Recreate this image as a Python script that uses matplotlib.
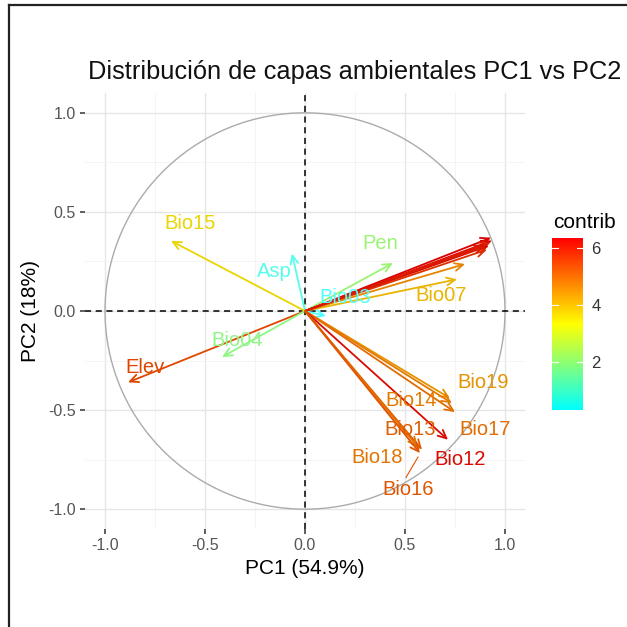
import matplotlib
matplotlib.use("Agg")
import matplotlib.pyplot as plt
from matplotlib.colors import LinearSegmentedColormap, Normalize
from matplotlib.lines import Line2D
import numpy as np

plt.rcParams['font.family'] = ['Liberation Sans', 'DejaVu Sans']

# variable coordinates on PC1 / PC2
variables = ['Elev', 'Bio15', 'Asp', 'Bio04', 'Bio03', 'Pen', 'Bio07', 'Bio09',
             'Bio01', 'Bio05', 'Bio06', 'Bio10', 'Bio11', 'Bio02',
             'Bio19', 'Bio14', 'Bio17', 'Bio12', 'Bio13', 'Bio18', 'Bio16']
pc1 = [-0.885, -0.67, -0.065, -0.415, 0.105, 0.44, 0.76, 0.80,
       0.93, 0.935, 0.925, 0.92, 0.91, 0.90,
       0.725, 0.735, 0.75, 0.715, 0.585, 0.565, 0.575]
pc2 = [-0.36, 0.354, 0.29, -0.232, -0.025, 0.242, 0.16, 0.237,
       0.37, 0.355, 0.345, 0.33, 0.31, 0.33,
       -0.44, -0.465, -0.51, -0.65, -0.70, -0.687, -0.717]
contrib = [5.4, 3.6, 0.6, 1.9, 0.3, 2.1, 4.0, 4.6,
           6.35, 6.2, 5.9, 6.1, 5.7, 6.0,
           4.4, 4.7, 4.9, 6.2, 5.1, 4.8, 5.2]
# labels shown (repel dropped the crowded ones)
labels = ['Elev', 'Bio15', 'Asp', 'Bio04', 'Bio03', 'Pen', 'Bio07', '',
          '', '', '', '', '', '',
          'Bio19', 'Bio14', 'Bio17', 'Bio12', 'Bio13', 'Bio18', 'Bio16']
label_x = [-0.80, -0.575, -0.155, -0.34, 0.20, 0.375, 0.68, 0,
           0, 0, 0, 0, 0, 0,
           0.89, 0.53, 0.90, 0.775, 0.525, 0.36, 0.515]
label_y = [-0.283, 0.44, 0.197, -0.15, 0.07, 0.34, 0.076, 0,
           0, 0, 0, 0, 0, 0,
           -0.36, -0.45, -0.60, -0.75, -0.60, -0.74, -0.90]

ticks = [-1.0, -0.5, 0.0, 0.5, 1.0]
tick_labels = ['-1.0', '-0.5', '0.0', '0.5', '1.0']
minor_ticks = [-0.75, -0.25, 0.25, 0.75]

cmap = LinearSegmentedColormap.from_list('contrib', ['#00FFFF', '#FFFF00', '#FF0000'])
norm = Normalize(vmin=min(contrib), vmax=max(contrib))


def mark_col(c):
    # thin lines/text: pale at the low end, a bit duller at the high end
    f = norm(c)
    r, g, b, a = cmap(f)
    if f < 0.45:
        w = 0.3 * (0.45 - f) / 0.45
        r, g, b = r + (1 - r) * w, g + (1 - g) * w, b + (1 - b) * w
    k = 1 - 0.15 * f
    return (r * k, g * k, b * k)


fig = plt.figure(figsize=(6.27, 6.27), dpi=100)
ax = fig.add_axes([85 / 627, 1 - 529 / 627, 440 / 627, 436 / 627])
ax.set_xlim(-1.1, 1.1)
ax.set_ylim(-1.1, 1.1)

ax.set_xticks(ticks)
ax.set_yticks(ticks)
ax.set_xticklabels(tick_labels)
ax.set_yticklabels(tick_labels)
ax.set_xticks(minor_ticks, minor=True)
ax.set_yticks(minor_ticks, minor=True)
ax.grid(True, which='major', color='#E6E6E6', lw=1.0)
ax.grid(True, which='minor', color='#F2F2F2', lw=0.6)
ax.set_axisbelow(True)
ax.tick_params(which='major', length=3.5, width=1.1, color='#333333',
               labelsize=11.5, labelcolor='#555555', pad=3)
ax.tick_params(which='minor', length=0)
for s in ax.spines.values():
    s.set_visible(False)

# correlation circle
t = np.linspace(0, 2 * np.pi, 400)
ax.plot(np.cos(t), np.sin(t), color='#ABABAB', lw=1.0)
ax.axhline(0, color='black', lw=1.1, ls=(0, (4, 3)))
ax.axvline(0, color='black', lw=1.1, ls=(0, (4, 3)))

for x, y, c in zip(pc1, pc2, contrib):
    ax.annotate('', xy=(x, y), xytext=(0, 0),
                arrowprops=dict(arrowstyle='->,head_length=0.6,head_width=0.28',
                                color=mark_col(c), lw=1.3, shrinkA=0, shrinkB=0))

for lab, lx, ly, c in zip(labels, label_x, label_y, contrib):
    if lab:
        ax.text(lx, ly, lab, color=mark_col(c), fontsize=14.5,
                ha='center', va='center')

# repel segment for Bio16
i16 = variables.index('Bio16')
ax.plot([label_x[i16] - 0.01, pc1[i16] - 0.01], [label_y[i16] + 0.06, pc2[i16] - 0.02],
        color=mark_col(contrib[i16]), lw=0.8)

ax.set_xlabel('PC1 (54.9%)', fontsize=15, labelpad=4)
ax.set_ylabel('PC2 (18%)', fontsize=15, labelpad=6)
fig.text(88 / 627, 1 - 72 / 627, 'Distribución de capas ambientales PC1 vs PC2',
         fontsize=18.3, ha='left', va='center', color='#111111')

# colour bar
cax = fig.add_axes([552 / 627, 1 - 410 / 627, 31 / 627, 172 / 627])
sm = plt.cm.ScalarMappable(norm=norm, cmap=cmap)
cb = fig.colorbar(sm, cax=cax, ticks=[2, 4, 6])
cb.outline.set_visible(False)
cb.ax.tick_params(length=0, labelsize=12, labelcolor='#333333', pad=6)
for v in [2, 4, 6]:
    cax.plot([0, 0.2], [v, v], color='white', lw=0.8)
    cax.plot([0.8, 1.0], [v, v], color='white', lw=0.8)
fig.text(553 / 627, 1 - 222 / 627, 'contrib', fontsize=15, ha='left', va='center')

# outer frame (top and left only visible)
fig.add_artist(Line2D([9 / 627, 1], [1 - 4.5 / 627, 1 - 4.5 / 627],
                      transform=fig.transFigure, color='#222222', lw=1.6))
fig.add_artist(Line2D([9 / 627, 9 / 627], [0, 1 - 4.5 / 627],
                      transform=fig.transFigure, color='#222222', lw=1.6))

fig.savefig('out.png', dpi=100, facecolor='white')
